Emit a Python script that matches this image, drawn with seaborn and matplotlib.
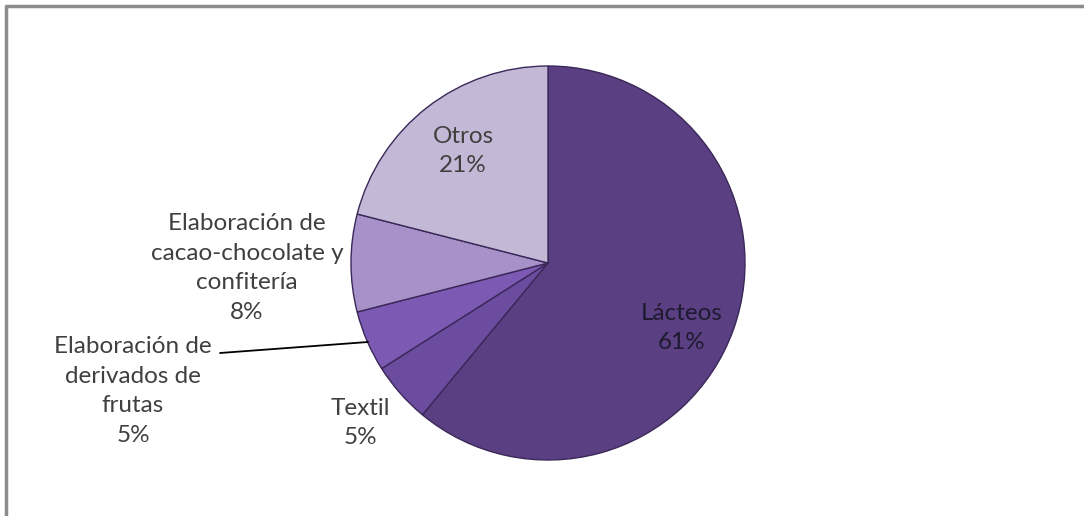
import matplotlib
matplotlib.use('Agg')
import matplotlib.pyplot as plt
import seaborn as sns


# data
categorias = ['Lácteos', 'Textil', 'Elaboración de\nderivados de\nfrutas',
              'Elaboración de\ncacao-chocolate y\nconfitería', 'Otros']
valores = [61, 5, 5, 8, 21]
colores = ['#5b3f83', '#6c4c9e', '#7c59b3', '#a692c8', '#c3b9d6']

# label centres in pixel coords (x, y from top), as laid out in the original
pos_etiquetas = [(682, 328), (360, 423), (133, 391), (247, 268), (463, 151)]


sns.set_theme(style='white')
plt.rcParams['font.family'] = ['Lato', 'DejaVu Sans']

W, H = 1084, 516
fig = plt.figure(figsize=(W / 100, H / 100), dpi=100)
ax = fig.add_axes([0, 0, 1, 1])

cx, cy, r = 548, H - 263, 197

wedges, _ = ax.pie(valores, colors=colores, startangle=90, counterclock=False,
                   center=(cx, cy), radius=r, frame=True,
                   wedgeprops=dict(edgecolor='#3a2858', linewidth=1.0))
ax.set_xlim(0, W)
ax.set_ylim(0, H)
ax.set_aspect('equal')
ax.axis('off')

for i, (cat, val) in enumerate(zip(categorias, valores)):
    x, y = pos_etiquetas[i]
    color = '#1e1a30' if i == 0 else '#404040'
    ax.text(x, H - y, f'{cat}\n{val}%', ha='center', va='center',
            fontsize=17.5, color=color, linespacing=1.5)

# leader line for the fruit label
ax.plot([220, 368], [H - 353, H - 342], color='black', lw=1.3)

# grey frame of the original picture (top and left edges)
ax.plot([6, 6, W], [0, H - 6, H - 6], color='#8c8c8c', lw=2.5,
        solid_capstyle='butt')

fig.savefig('out.png', dpi=100)
